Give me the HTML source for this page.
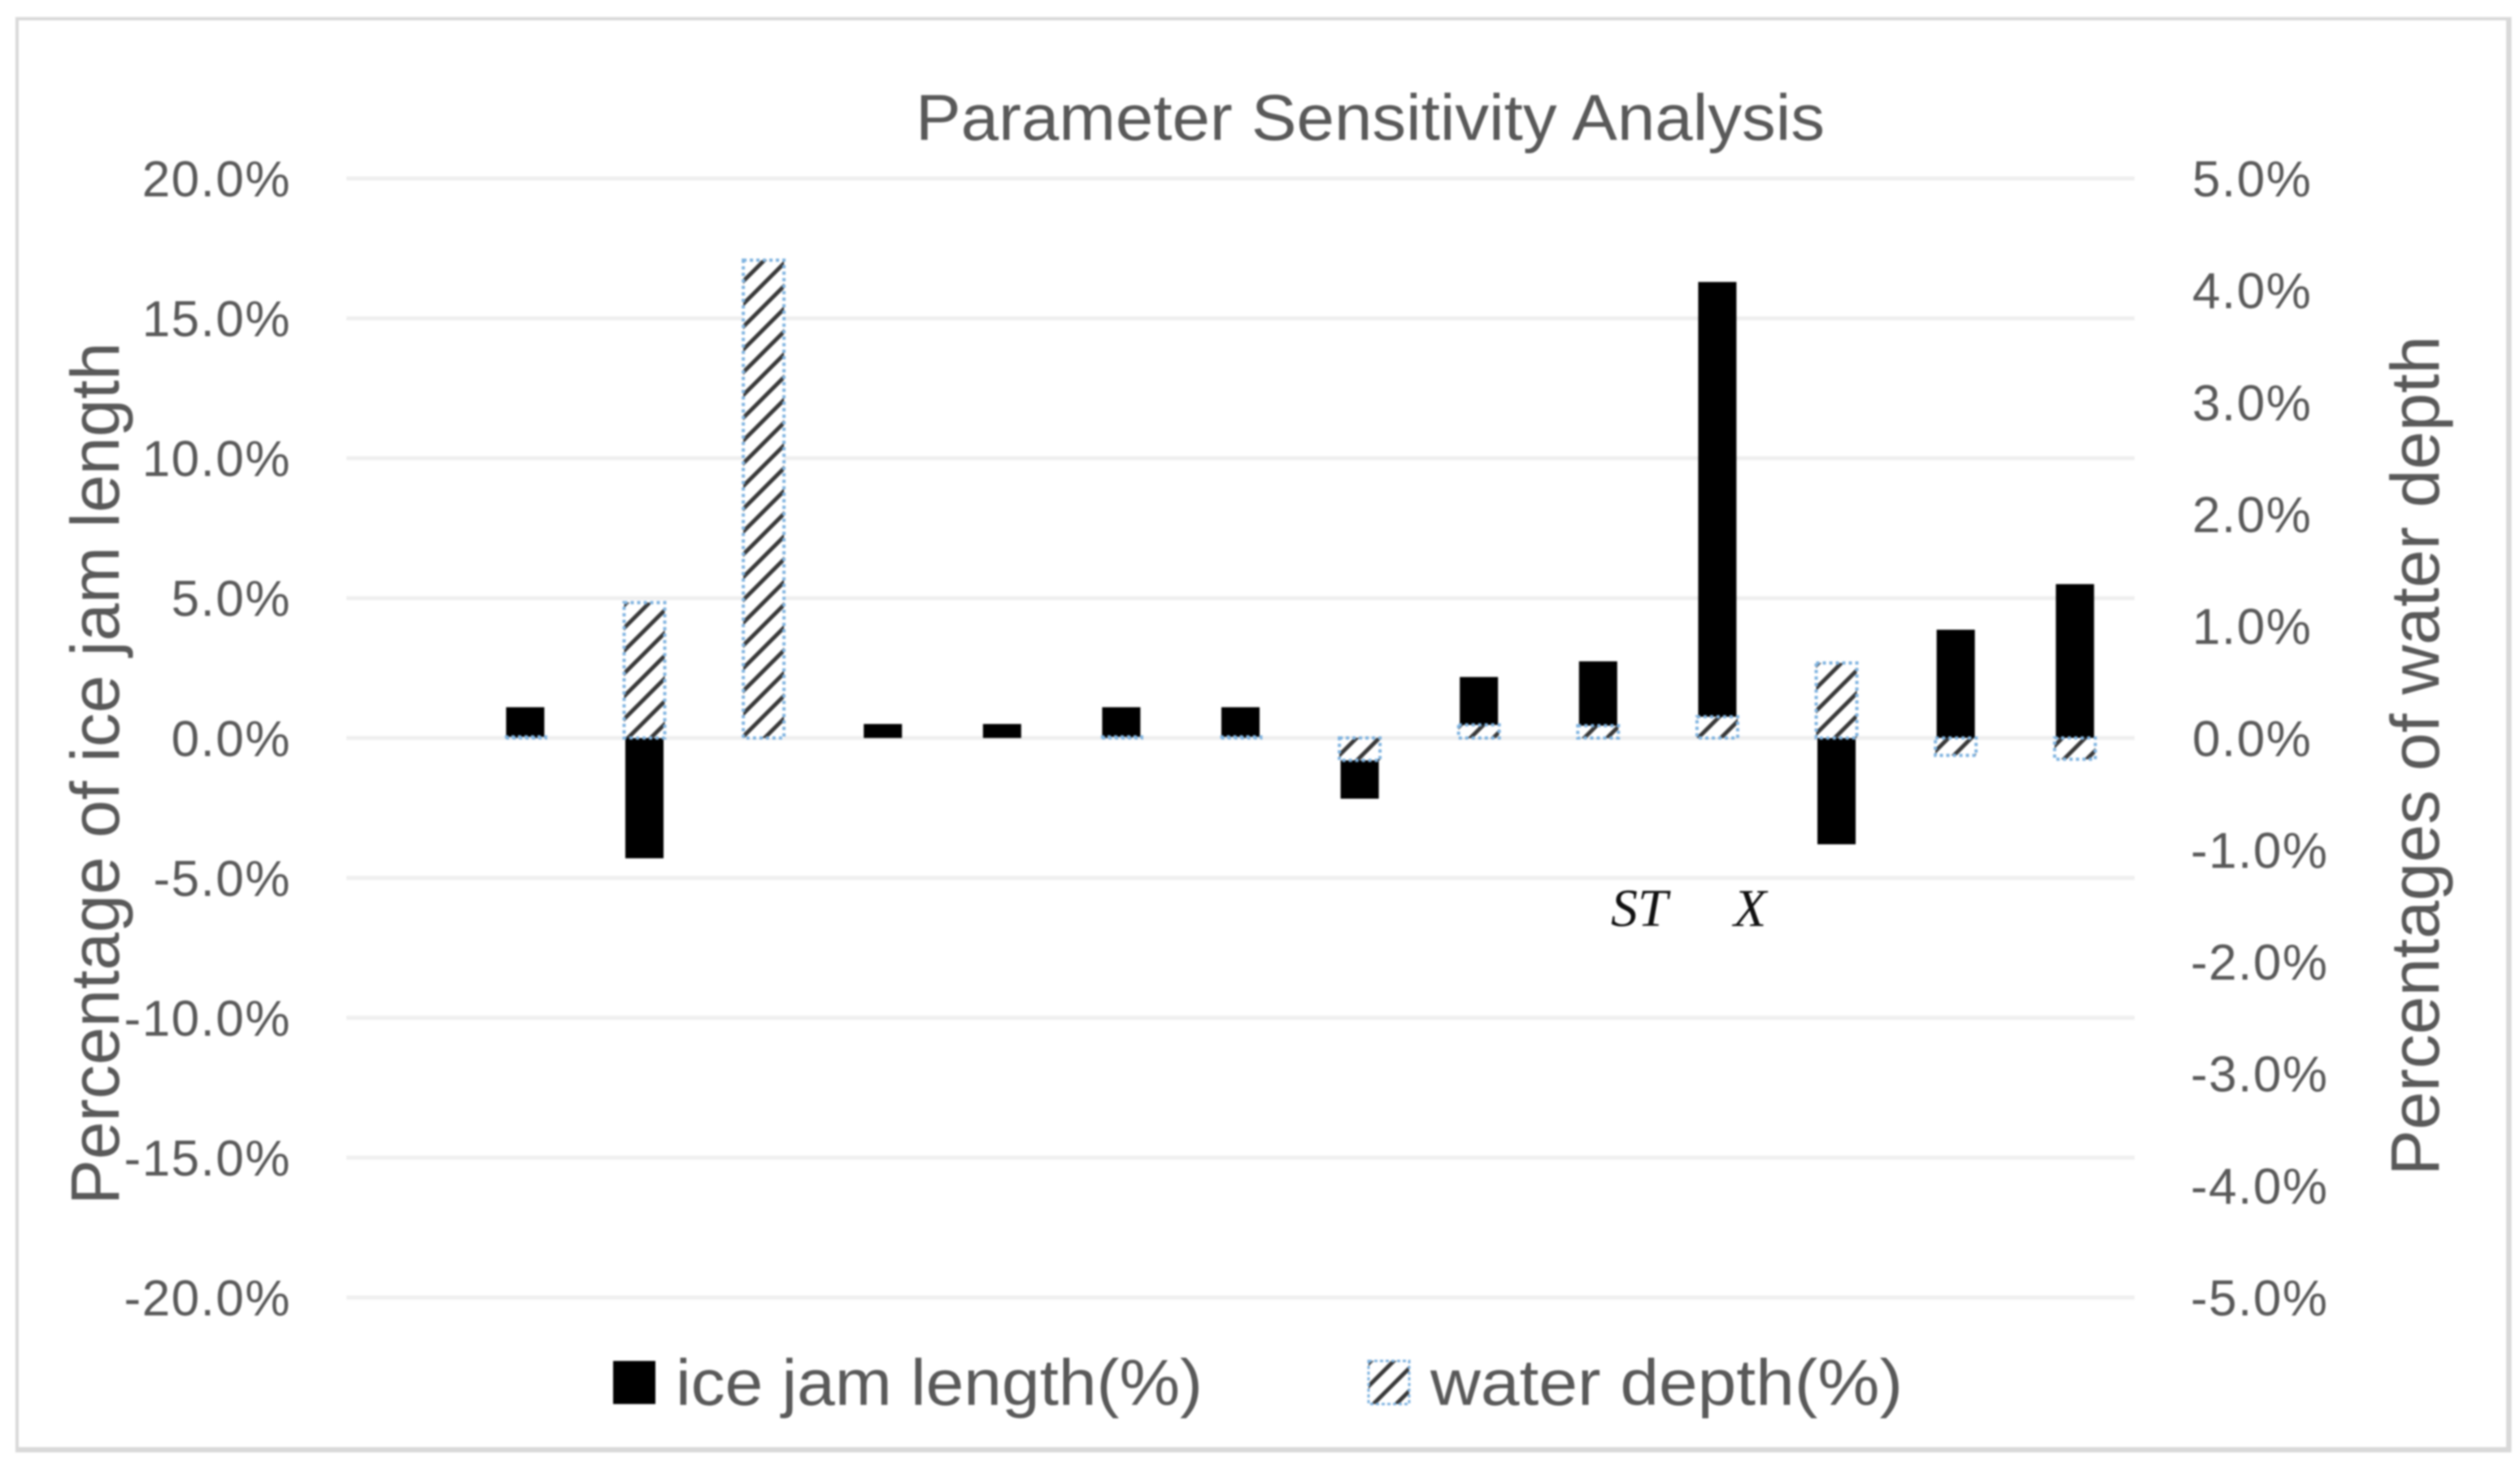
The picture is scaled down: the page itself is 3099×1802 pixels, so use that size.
<!DOCTYPE html>
<html lang="en">
<head>
<meta charset="utf-8">
<title>Parameter Sensitivity Analysis</title>
<style>
  html, body { margin: 0; padding: 0; background: #ffffff; }
  body { width: 3099px; height: 1802px; overflow: hidden; }
  svg { display: block; }
  text { font-family: "Liberation Sans", sans-serif; fill: #595959; }
  .tick { font-size: 62px; letter-spacing: 1.5px; }
</style>
</head>
<body>
<svg xmlns="http://www.w3.org/2000/svg" width="3099" height="1802" viewBox="0 0 3099 1802">
  <defs>
    <pattern id="hatch" patternUnits="userSpaceOnUse" width="28" height="28">
      <rect width="28" height="28" fill="#ffffff"></rect>
      <path d="M-7,7 L7,-7 M0,28 L28,0 M21,35 L35,21" stroke="#383838" stroke-width="5" fill="none"></path>
    </pattern>
  </defs>
  <g id="root" style="filter:blur(1.1px)">
    <rect x="0" y="0" width="3099" height="1802" fill="#ffffff"></rect>
    <rect x="21" y="23" width="3063" height="1759" fill="#ffffff" stroke="#d9d9d9" stroke-width="4"></rect>
    <line x1="19" y1="1784" x2="3088" y2="1784" stroke="#d9d9d9" stroke-width="5"></line>
    <line x1="3086" y1="21" x2="3086" y2="1786" stroke="#d9d9d9" stroke-width="5"></line>

    <g id="grid"></g>
    <g id="left-ticks"></g>
    <g id="right-ticks"></g>
    <g id="bars-length"></g>
    <g id="bars-depth"></g>

    <text x="1126" y="172" font-size="80" textLength="1118" lengthAdjust="spacingAndGlyphs">Parameter Sensitivity Analysis</text>
    <text transform="translate(146,1482) rotate(-90)" font-size="84" textLength="1061" lengthAdjust="spacingAndGlyphs">Percentage of ice jam length</text>
    <text transform="translate(2999,1446) rotate(-90)" font-size="84" textLength="1033" lengthAdjust="spacingAndGlyphs">Percentages of water depth</text>

    <text x="1981" y="1139" font-size="66" font-style="italic" style="font-family:'Liberation Serif',serif;fill:#111111">ST</text>
    <text x="2132" y="1139" font-size="66" font-style="italic" style="font-family:'Liberation Serif',serif;fill:#111111">X</text>

    <g>
      <rect x="754" y="1674" width="52" height="53" fill="#000000"></rect>
      <text x="831" y="1728" font-size="80" textLength="648" lengthAdjust="spacingAndGlyphs">ice jam length(%)</text>
      <rect x="1683" y="1674" width="50" height="53" fill="url(#hatch)" stroke="#7fb3e0" stroke-width="3" stroke-dasharray="4 3"></rect>
      <text x="1759" y="1728" font-size="80" textLength="581" lengthAdjust="spacingAndGlyphs">water depth(%)</text>
    </g>
  </g>
</svg>
<script>
const categories = ['p0','p1','p2','p3','p4','p5','p6','p7','p8','p9','p10','p11','p12','p13','p14'];
const iceJamLength = [0, 1.1, -4.3, 0, 0.5, 0.5, 1.1, 1.1, -2.17, 2.18, 2.74, 16.3, -3.8, 3.87, 5.5];
const waterDepth = [0, 0.01, 1.21, 4.27, 0, 0, 0.01, 0.01, -0.2, 0.117, 0.11, 0.19, 0.67, -0.155, -0.19];
const leftTicks = [20, 15, 10, 5, 0, -5, -10, -15, -20];
const rightTicks = [5, 4, 3, 2, 1, 0, -1, -2, -3, -4, -5];

const SVG_NS = 'http://www.w3.org/2000/svg';
const plotLeft = 426, plotRight = 2625, plotTop = 219.5, plotBottom = 1596;

function yLeft(v) { return plotTop + (20 - v) / 40 * (plotBottom - plotTop); }
function yRight(v) { return plotTop + (5 - v) / 10 * (plotBottom - plotTop); }
function xCenter(i) { return plotLeft + (plotRight - plotLeft) / categories.length * (i + 0.5); }

function make(tag, attrs) {
  const el = document.createElementNS(SVG_NS, tag);
  Object.keys(attrs).forEach(function (k) { el.setAttribute(k, attrs[k]); });
  return el;
}

const gridGroup = document.getElementById('grid');
leftTicks.forEach(function (t) {
  const line = make('line', { x1: plotLeft, x2: plotRight, y1: yLeft(t), y2: yLeft(t), stroke: '#efefef', 'stroke-width': 5 });
  
  
  gridGroup.appendChild(line);
});

const leftGroup = document.getElementById('left-ticks');
leftTicks.forEach(function (t) {
  const label = make('text', { x: 358, y: yLeft(t) + 22, 'text-anchor': 'end', class: 'tick' });
  label.textContent = t.toFixed(1) + '%';
  
  
  leftGroup.appendChild(label);
});

const rightGroup = document.getElementById('right-ticks');
rightTicks.forEach(function (t) {
  const label = make('text', { x: t < 0 ? 2694 : 2696, y: yRight(t) + 22, class: 'tick' });
  label.textContent = t.toFixed(1) + '%';
  
  
  rightGroup.appendChild(label);
});

const lengthGroup = document.getElementById('bars-length');
iceJamLength.forEach(function (v, i) {
  if (v === 0) return;
  const y0 = yLeft(0), y1 = yLeft(v);
  const bar = make('rect', { x: xCenter(i) - 23.5, y: Math.min(y0, y1), width: 47, height: Math.abs(y1 - y0), fill: '#000000' });
  
  
  lengthGroup.appendChild(bar);
});

const depthGroup = document.getElementById('bars-depth');
waterDepth.forEach(function (v, i) {
  if (v === 0) return;
  const y0 = yRight(0), y1 = yRight(v);
  const bar = make('rect', { x: xCenter(i) - 25, y: Math.min(y0, y1), width: 50, height: Math.abs(y1 - y0), fill: 'url(#hatch)', stroke: '#7fb3e0', 'stroke-width': 4, 'stroke-dasharray': '4 4' });
  
  
  depthGroup.appendChild(bar);
});
</script>
</body>
</html>
